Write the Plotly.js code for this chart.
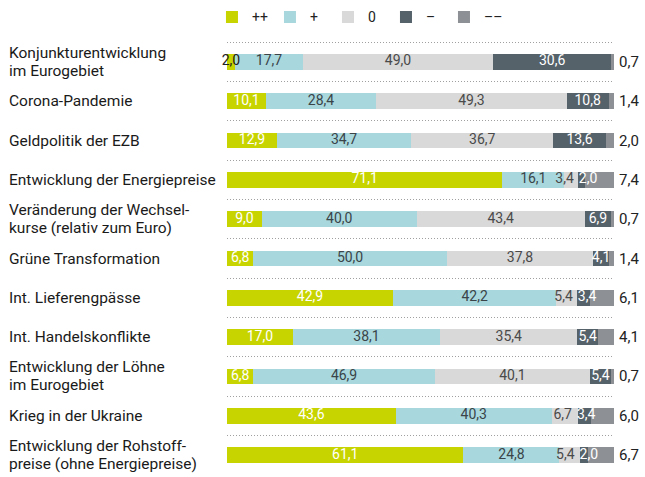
<!DOCTYPE html>
<html>
<head>
<meta charset="utf-8">
<script src="https://cdn.plot.ly/plotly-3.0.1.min.js"></script>
<style>html,body{margin:0;padding:0;background:#fff;}#chart{width:645px;height:477px;}</style>
</head>
<body>
<div id="chart"></div>
<script>
const categories = [
  "Konjunkturentwicklung<br>im Eurogebiet",
  "Corona-Pandemie",
  "Geldpolitik der EZB",
  "Entwicklung der Energiepreise",
  "Veränderung der Wechsel-<br>kurse (relativ zum Euro)",
  "Grüne Transformation",
  "Int. Lieferengpässe",
  "Int. Handelskonflikte",
  "Entwicklung der Löhne<br>im Eurogebiet",
  "Krieg in der Ukraine",
  "Entwicklung der Rohstoff-<br>preise (ohne Energiepreise)"
];
const seriesNames = ["++", "+", "0", "–", "––"];
const veryPositive = [2.0, 10.1, 12.9, 71.1, 9.0, 6.8, 42.9, 17.0, 6.8, 43.6, 61.1];
const positive     = [17.7, 28.4, 34.7, 16.1, 40.0, 50.0, 42.2, 38.1, 46.9, 40.3, 24.8];
const neutral      = [49.0, 49.3, 36.7, 3.4, 43.4, 37.8, 5.4, 35.4, 40.1, 6.7, 5.4];
const negative     = [30.6, 10.8, 13.6, 2.0, 6.9, 4.1, 3.4, 5.4, 5.4, 3.4, 2.0];
const veryNegative = [0.7, 1.4, 2.0, 7.4, 0.7, 1.4, 6.1, 4.1, 0.7, 6.0, 6.7];

const colors = ["#c8d400", "#a8d8dd", "#d9d9d9", "#56626a", "#8d9095"];
const textColors = ["#ffffff", "#3a4449", "#4a4a4a", "#ffffff"];
const FONT = "Roboto, 'Noto Sans', sans-serif";
const LABEL_SIZE = 14;

const W = 645, H = 477;
const mL = 227.3, mR = 31.3, mT = 39.6, mB = 0.1;
const plotW = W - mL - mR;
const pxPerUnit = plotW / 100;

const fmt = v => v.toFixed(1).replace(".", ",");
const series = [veryPositive, positive, neutral, negative, veryNegative];

const traces = series.map((vals, i) => ({
  type: "bar",
  orientation: "h",
  name: seriesNames[i],
  x: vals,
  y: categories,
  marker: {color: colors[i], line: {width: 0}},
  textposition: "none",
  hoverinfo: "skip",
  cliponaxis: false
}));

// value label positions: segment midpoints, nudged apart where they would collide
const labelled = 4;
const labelX = series.slice(0, labelled).map(() => []);
categories.forEach((c, r) => {
  let cum = 0;
  const pos = [], wid = [];
  for (let i = 0; i < labelled; i++) {
    const v = series[i][r];
    pos.push(cum + v / 2);
    const s = fmt(v);
    const digits = s.replace(",", "").length;
    wid.push((digits * 0.57 * LABEL_SIZE + 0.25 * LABEL_SIZE) / pxPerUnit);
    cum += v;
  }
  const gap = 4 / pxPerUnit;
  for (let it = 0; it < 80; it++) {
    for (let i = 0; i < labelled - 1; i++) {
      const ov = (pos[i] + wid[i] / 2 + gap) - (pos[i + 1] - wid[i + 1] / 2);
      if (ov > 0) { pos[i] -= ov / 2; pos[i + 1] += ov / 2; }
    }
  }
  for (let i = 0; i < labelled; i++) labelX[i].push(pos[i]);
});

for (let i = 0; i < labelled; i++) {
  traces.push({
    type: "scatter",
    mode: "text",
    x: labelX[i],
    y: categories,
    text: series[i].map(fmt),
    textposition: "middle center",
    textfont: {
      family: FONT, size: LABEL_SIZE,
      color: series[i].map(v => (i === 0 && v < 3) ? "#222222" : textColors[i])
    },
    showlegend: false,
    hoverinfo: "skip",
    cliponaxis: false
  });
}

const annotations = [];
const LINE_H = 18;
categories.forEach(c => {
  const lines = c.split("<br>");
  lines.forEach((ln, j) => {
    annotations.push({
      xref: "paper", yref: "y",
      x: -(mL - 8) / plotW, y: c,
      yshift: ((lines.length - 1) / 2 - j) * LINE_H,
      xanchor: "left", yanchor: "middle", align: "left",
      text: ln, showarrow: false,
      font: {family: FONT, size: 15.5, color: "#1a1a1a"}
    });
  });
});
// right-side labels for "––"
categories.forEach((c, k) => {
  annotations.push({
    xref: "x", yref: "y",
    x: 100, y: c, xshift: 3,
    xanchor: "left", yanchor: "middle",
    text: fmt(veryNegative[k]),
    showarrow: false,
    font: {family: FONT, size: 15, color: "#222222"}
  });
});

const layout = {
  width: W, height: H,
  margin: {l: mL, r: mR, t: mT, b: mB, pad: 0},
  paper_bgcolor: "#ffffff", plot_bgcolor: "#ffffff",
  barmode: "stack",
  bargap: 0.605,
  font: {family: FONT, color: "#222222"},
  xaxis: {range: [0, 100], visible: false, fixedrange: true},
  yaxis: {
    type: "category",
    autorange: "reversed",
    showticklabels: false,
    ticks: "",
    tickson: "boundaries",
    showgrid: true,
    gridcolor: "#a0a0a0",
    gridwidth: 1,
    griddash: "1px,2px",
    zeroline: false,
    showline: false
  },
  showlegend: true,
  legend: {
    orientation: "h",
    x: -15 / plotW, xanchor: "left",
    y: 1 + (mT - 1) / (H - mT - mB), yanchor: "top",
    font: {family: FONT, size: 14, color: "#222222"},
    traceorder: "normal",
    itemwidth: 30,
    entrywidth: 13,
    entrywidthmode: "pixels",
    bgcolor: "rgba(0,0,0,0)"
  },
  annotations: annotations
};

Plotly.newPlot("chart", traces, layout, {staticPlot: true, displayModeBar: false});
</script>
</body>
</html>
